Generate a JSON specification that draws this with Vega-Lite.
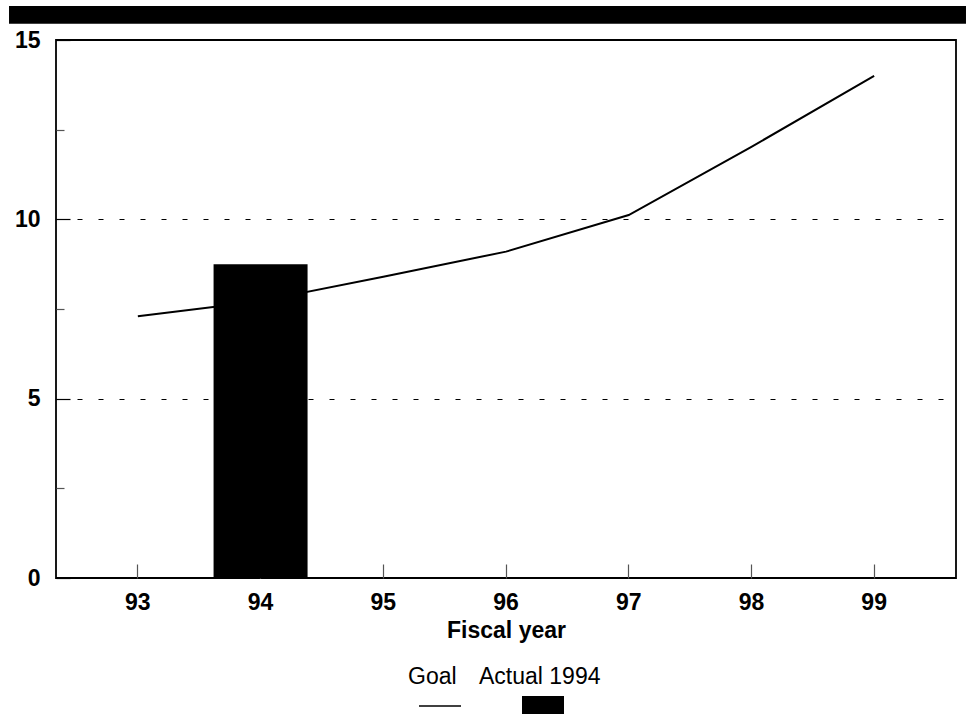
{
  "$schema": "https://vega.github.io/schema/vega-lite/v6.json",
  "width": 900,
  "height": 538,
  "autosize": {"type": "none"},
  "padding": {"left": 56, "top": 40, "right": 11, "bottom": 137},
  "background": "white",
  "config": {
    "font": "Liberation Sans",
    "view": {"stroke": "black", "strokeWidth": 1.8},
    "axis": {"domain": false, "labelFont": "Liberation Sans", "titleFont": "Liberation Sans"},
    "legend": {"padding": 0}
  },
  "resolve": {"scale": {"x": "independent"}, "axis": {"x": "independent"}},
  "layer": [
    {
      "data": {"values": [{"part": "header band"}]},
      "mark": {"type": "rect", "color": "black", "clip": false},
      "encoding": {
        "x": {"datum": -0.0522, "type": "quantitative", "scale": {"domain": [0, 1], "nice": false, "zero": false}, "axis": null},
        "x2": {"datum": 1.0111},
        "y": {"datum": 15.95, "type": "quantitative"},
        "y2": {"datum": 15.45}
      }
    },
    {
      "layer": [
        {
          "data": {
            "values": [
              {"year": "93", "value": 7.3, "series": "Goal"},
              {"year": "94", "value": 7.72, "series": "Goal"},
              {"year": "95", "value": 8.4, "series": "Goal"},
              {"year": "96", "value": 9.1, "series": "Goal"},
              {"year": "97", "value": 10.12, "series": "Goal"},
              {"year": "98", "value": 12.02, "series": "Goal"},
              {"year": "99", "value": 14.0, "series": "Goal"}
            ]
          },
          "mark": {"type": "line", "strokeWidth": 2},
          "encoding": {
            "x": {
              "field": "year",
              "type": "nominal",
              "scale": {"domain": ["93", "94", "95", "96", "97", "98", "99"], "paddingInner": 0.234, "paddingOuter": 0.284},
              "axis": {
                "title": "Fiscal year",
                "labelAngle": 0,
                "labelFontSize": 23,
                "labelFontWeight": "bold",
                "labelColor": "black",
                "tickSize": -14,
                "tickColor": "#555",
                "tickWidth": 1.2,
                "labelPadding": 27,
                "titleFontSize": 23,
                "titleFontWeight": "bold",
                "titleColor": "black",
                "titlePadding": 5
              }
            },
            "y": {
              "field": "value",
              "type": "quantitative",
              "scale": {"domain": [0, 15], "nice": false, "zero": true},
              "axis": {
                "title": null,
                "values": [0, 2.5, 5, 7.5, 10, 12.5, 15],
                "labelExpr": "datum.value % 5 === 0 ? datum.label : ''",
                "labelFontSize": 23,
                "labelFontWeight": "bold",
                "labelColor": "black",
                "labelPadding": 30,
                "tickSize": {"condition": {"test": "datum.value % 5 === 0", "value": -14}, "value": -8},
                "tickColor": {"condition": {"test": "datum.value % 5 === 0", "value": "black"}, "value": "#555"},
                "tickWidth": 1.2,
                "grid": true,
                "gridColor": "black",
                "gridWidth": 1,
                "gridDash": [5, 16],
                "gridOpacity": {"condition": {"test": "datum.value === 5 || datum.value === 10", "value": 1}, "value": 0}
              }
            },
            "stroke": {
              "field": "series",
              "type": "nominal",
              "scale": {"range": ["black"]},
              "legend": {
                "orient": "none",
                "legendX": 352,
                "legendY": 626,
                "title": "Goal",
                "titleFont": "Liberation Sans",
                "titleFontSize": 23,
                "titleFontWeight": "normal",
                "titleColor": "black",
                "titleAnchor": "start",
                "titlePadding": -5,
                "labelExpr": "''",
                "symbolType": "stroke",
                "symbolSize": 1764,
                "symbolStrokeWidth": 1.6,
                "symbolOffset": 10
              }
            }
          }
        },
        {
          "data": {"values": [{"year": "94", "value": 8.75, "series": "Actual 1994"}]},
          "mark": {"type": "bar"},
          "encoding": {
            "x": {"field": "year", "type": "nominal"},
            "y": {"field": "value", "type": "quantitative"},
            "fill": {
              "field": "series",
              "type": "nominal",
              "scale": {"range": ["black"]},
              "legend": {
                "orient": "none",
                "legendX": 423,
                "legendY": 626,
                "title": "Actual 1994",
                "titleFont": "Liberation Sans",
                "titleFontSize": 23,
                "titleFontWeight": "normal",
                "titleColor": "black",
                "titleAnchor": "start",
                "titlePadding": -5,
                "labelExpr": "''",
                "symbolType": "M-1,-0.43H1V0.43H-1Z",
                "symbolSize": 1764,
                "symbolStrokeWidth": 0,
                "symbolFillColor": "black",
                "symbolOffset": 43
              }
            }
          }
        }
      ]
    }
  ]
}
